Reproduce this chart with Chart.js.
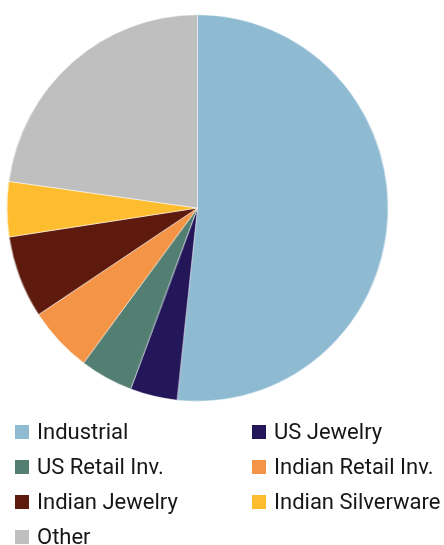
<!DOCTYPE html>
<html>
<head>
<meta charset="utf-8">
<script src="https://cdn.jsdelivr.net/npm/chart.js@4"></script>
<style>
  html, body { margin: 0; padding: 0; background: #fff; }
  body { width: 444px; height: 545px; position: relative; overflow: hidden; font-family: Roboto, "Liberation Sans", sans-serif; }
  #wrap { position: absolute; left: 4px; top: 14px; width: 387px; height: 388px; transform: scaleX(0.986); transform-origin: 193.5px 194px; }
  #legend { position: absolute; left: 0; top: 0; width: 444px; height: 545px; pointer-events: none; }
  .item { position: absolute; height: 16px; display: flex; align-items: center; white-space: nowrap; }
  .box { width: 14px; height: 14px; flex: none; }
  .label { margin-left: 8px; font-size: 22px; color: #161616; line-height: 16px; }
</style>
</head>
<body>
<div id="wrap"><canvas id="c"></canvas></div>
<div id="legend"></div>
<script>
const categories = ["Industrial", "US Jewelry", "US Retail Inv.", "Indian Retail Inv.", "Indian Jewelry", "Indian Silverware", "Other"];
const values = [51.7, 4.0, 4.5, 5.5, 6.9, 4.6, 22.8];
const colors = ["#8EBAD2", "#23175A", "#537F72", "#F39446", "#5E1B0D", "#FDBD2E", "#BFBFBF"];

const chart = new Chart(document.getElementById('c'), {
  type: 'pie',
  data: {
    labels: categories,
    datasets: [{
      data: values,
      backgroundColor: colors,
      borderColor: '#ffffff',
      borderWidth: 0.5
    }]
  },
  options: {
    responsive: true,
    maintainAspectRatio: false,
    animation: false,
    layout: { padding: 0 },
    plugins: { legend: { display: false }, tooltip: { enabled: false } }
  }
});

// HTML legend built from the chart's data, two columns
const legend = document.getElementById('legend');
chart.data.labels.forEach((lab, i) => {
  const col = i % 2, row = Math.floor(i / 2);
  const it = document.createElement('div');
  it.className = 'item';
  it.style.left = (col === 0 ? 15 : 252) + 'px';
  it.style.top = (424 + row * 35) + 'px';
  const b = document.createElement('div');
  b.className = 'box';
  b.style.background = chart.data.datasets[0].backgroundColor[i];
  const t = document.createElement('span');
  t.className = 'label';
  t.textContent = lab;
  it.appendChild(b); it.appendChild(t);
  legend.appendChild(it);
});
</script>
</body>
</html>
